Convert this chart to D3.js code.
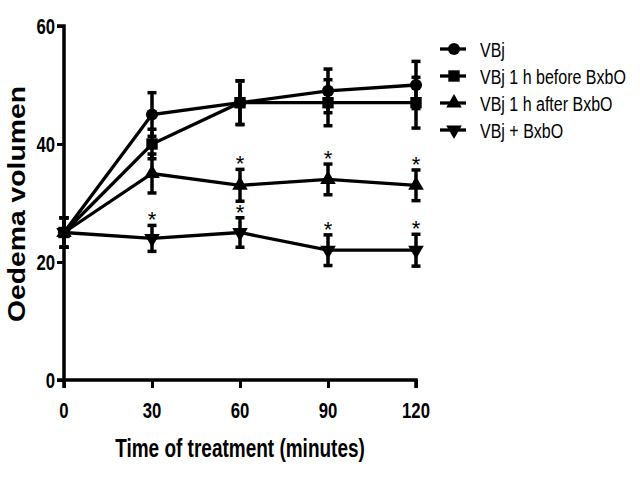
<!DOCTYPE html>
<html><head><meta charset="utf-8">
<script src="https://cdn.jsdelivr.net/npm/d3@7"></script>
<style>body{margin:0;background:#fff}svg{display:block}</style>
</head><body>
<svg id="c" width="640" height="480"></svg>
<script>
const times = [0, 30, 60, 90, 120];
const seriesNames = ["VBj", "VBj 1 h before BxbO", "VBj 1 h after BxbO", "VBj + BxbO"];
const seriesSymbols = ["circle", "square", "triangle", "invtriangle"];
const vbjMean = [25, 45, 47, 49, 50];
const vbjErr = [2.5, 3.7, 3.7, 3.7, 4];
const beforeMean = [25, 40, 47, 47, 47];
const beforeErr = [2.5, 2.5, 3.7, 3.9, 4.3];
const afterMean = [25, 35, 33, 34, 33];
const afterErr = [2.5, 3.3, 2.7, 2.6, 2.6];
const plusMean = [25, 24, 25, 22, 22];
const plusErr = [2.5, 2.2, 2.5, 2.6, 2.7];
const afterSig = [false, false, true, true, true];
const plusSig = [false, true, true, true, true];
const xTicks = [0, 30, 60, 90, 120];
const yTicks = [0, 20, 40, 60];
const xTitle = "Time of treatment (minutes)";
const yTitle = "Oedema volumen";

const series = [
  {name: seriesNames[0], sym: seriesSymbols[0], mean: vbjMean, err: vbjErr, sig: null},
  {name: seriesNames[1], sym: seriesSymbols[1], mean: beforeMean, err: beforeErr, sig: null},
  {name: seriesNames[2], sym: seriesSymbols[2], mean: afterMean, err: afterErr, sig: afterSig},
  {name: seriesNames[3], sym: seriesSymbols[3], mean: plusMean, err: plusErr, sig: plusSig}
];

const svg = d3.select("#c");
const x = d3.scaleLinear().domain([0, 120]).range([64, 416]);
const y = d3.scaleLinear().domain([0, 60]).range([380, 26]);
const font = "'Liberation Sans', Arial, sans-serif";
const SQX = 0.76; // horizontal condensing to mimic a narrow face

function symbolPath(sym) {
  if (sym === "circle") return d3.symbol(d3.symbolCircle, 115)();
  if (sym === "square") return d3.symbol(d3.symbolSquare, 130)();
  return d3.symbol(d3.symbolTriangle, 105)();
}
function symTransform(sym, cx, cy) {
  return `translate(${cx},${cy})` + (sym === "invtriangle" ? " rotate(180)" : "");
}
function narrowText(g, tx, ty, str, size, weight, anchor, sx) {
  return g.append("text").attr("transform", `translate(${tx},${ty}) scale(${sx || SQX},1)`)
    .attr("text-anchor", anchor || "start")
    .style("font-family", font).style("font-weight", weight || "normal")
    .style("font-size", size + "px").attr("fill", "#000").text(str);
}

// axes
const xAxis = svg.append("g").attr("transform", `translate(0,${y(0)})`)
  .call(d3.axisBottom(x).tickValues(xTicks).tickSize(8).tickFormat(""));
const yAxis = svg.append("g").attr("transform", `translate(${x(0)},0)`)
  .call(d3.axisLeft(y).tickValues(yTicks).tickSize(7).tickFormat(""));
[xAxis, yAxis].forEach(a => {
  a.select(".domain").attr("stroke", "#000").attr("stroke-width", 3.5);
  a.selectAll(".tick line").attr("stroke", "#000").attr("stroke-width", 3);
});
xAxis.select(".domain").attr("d", `M${x(0)},8V0H${x(120)}V8`);
yAxis.select(".domain").attr("d", `M-7,${y(60)}H0V${y(0)}H-7`);
xTicks.forEach(v => narrowText(svg, x(v), 418, String(v), 22, "bold", "middle"));
yTicks.forEach(v => narrowText(svg, 55, y(v) + 8, String(v), 22, "bold", "end"));

// series
const line = d3.line().x((d, i) => x(times[i])).y(d => y(d));
series.forEach(s => {
  svg.append("path").datum(s.mean).attr("d", line)
    .attr("fill", "none").attr("stroke", "#000").attr("stroke-width", 3.3);
});
series.forEach(s => {
  const g = svg.append("g");
  s.mean.forEach((m, i) => {
    const cx = x(times[i]), t = y(m + s.err[i]), b = y(m - s.err[i]);
    g.append("line").attr("x1", cx).attr("x2", cx).attr("y1", t).attr("y2", b)
      .attr("stroke", "#000").attr("stroke-width", 3.5);
    [t, b].forEach(yy => g.append("line").attr("x1", cx - 4.5).attr("x2", cx + 4.5)
      .attr("y1", yy).attr("y2", yy).attr("stroke", "#000").attr("stroke-width", 3.5));
    g.append("path").attr("d", symbolPath(s.sym))
      .attr("transform", symTransform(s.sym, cx, y(m))).attr("fill", "#000");
    if (s.sig && s.sig[i]) {
      g.append("text").attr("x", cx).attr("y", t + 2).attr("text-anchor", "middle")
        .style("font-family", font).style("font-size", "22px").text("*");
    }
  });
});

// legend
const leg = svg.append("g");
series.forEach((s, i) => {
  const ly = 49 + i * 27;
  leg.append("line").attr("x1", 440).attr("x2", 466).attr("y1", ly).attr("y2", ly)
    .attr("stroke", "#000").attr("stroke-width", 3.3);
  leg.append("path").attr("d", symbolPath(s.sym))
    .attr("transform", symTransform(s.sym, 454, ly)).attr("fill", "#000");
  narrowText(leg, 480, ly + 7.5, s.name, 20, "normal", "start", 0.8);
});

// titles
narrowText(svg, 240, 457, xTitle, 25, "bold", "middle");
svg.append("text").attr("transform", "translate(25,204) rotate(-90)").attr("text-anchor", "middle")
  .attr("textLength", 236).attr("lengthAdjust", "spacingAndGlyphs")
  .style("font-family", font).style("font-weight", "bold")
  .style("font-size", "23px").text(yTitle);
</script>
</body></html>
